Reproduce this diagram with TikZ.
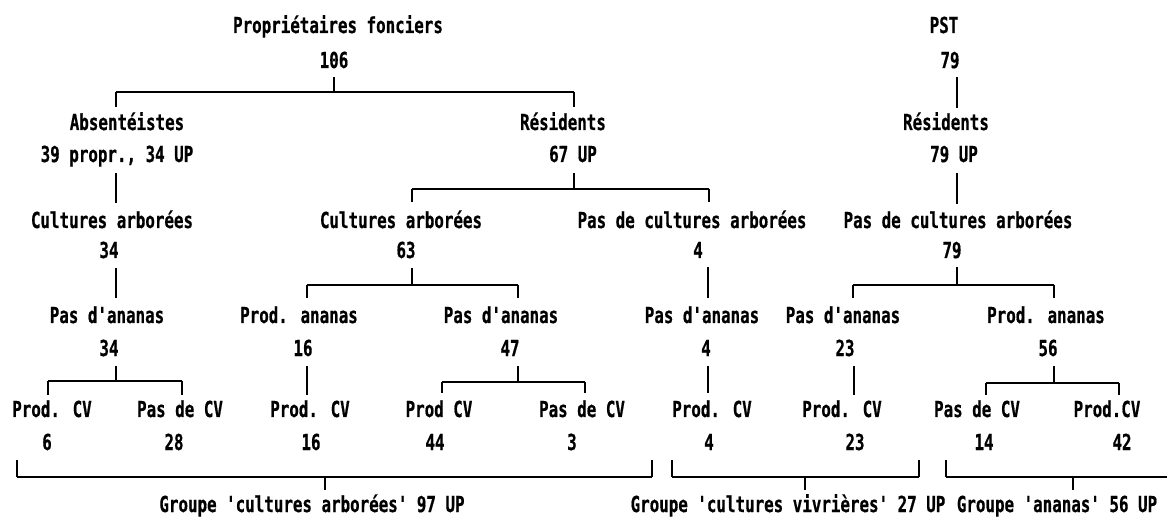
\documentclass[tikz,border=0pt]{standalone}
\usepackage{fontspec}
\newfontfamily\dmfont{DejaVu Sans Mono}[FakeStretch=0.72,FakeBold=0.6]
\usetikzlibrary{calc}
\begin{document}
\begin{tikzpicture}[x=1pt,y=-1pt,
  lab/.style={anchor=base,inner sep=0pt,font={\dmfont\bfseries\fontsize{22}{22}\selectfont}},
  vl/.style={line width=1.3pt},
  hb/.style={line width=2.4pt}]
\useasboundingbox[fill=white] (0,0) rectangle (1167,518);
% row 1-2
\node[lab] (pf) at (338,33) {Propriétaires fonciers};
\node[lab] (pst) at (944,33) {PST};
\node[lab] (n106) at (334,68) {106};
\node[lab] (n79a) at (950,68) {79};
% row 3-4
\node[lab] (abs) at (127,130) {Absentéistes};
\node[lab] (resA) at (563,130) {Résidents};
\node[lab] (resB) at (946,130) {Résidents};
\node[lab] (absn) at (117,162) {39 propr., 34 UP};
\node[lab] (up67) at (573,162) {67 UP};
\node[lab] (up79) at (954,162) {79 UP};
% row 5-6
\node[lab] (caA) at (112,228) {Cultures arborées};
\node[lab] (caB) at (401,228) {Cultures arborées};
\node[lab] (pcaA) at (692,228) {Pas de cultures arborées};
\node[lab] (pcaB) at (958,228) {Pas de cultures arborées};
\node[lab] (n34a) at (109,258) {34};
\node[lab] (n63) at (406,258) {63};
\node[lab] (n4a) at (698,258) {4};
\node[lab] (n79b) at (952,258) {79};
% row 7-8
\node[lab] (pa1) at (107,323) {Pas d'ananas};
\node[lab] (pa2) at (299,323) {Prod. ananas};
\node[lab] (pa3) at (501,323) {Pas d'ananas};
\node[lab] (pa4) at (702,323) {Pas d'ananas};
\node[lab] (pa5) at (843,323) {Pas d'ananas};
\node[lab] (pa6) at (1046,323) {Prod. ananas};
\node[lab] (n34b) at (109,356) {34};
\node[lab] (n16a) at (303,356) {16};
\node[lab] (n47) at (510,356) {47};
\node[lab] (n4b) at (706,356) {4};
\node[lab] (n23a) at (845,356) {23};
\node[lab] (n56) at (1048,356) {56};
% row 9-10
\node[lab] (cv1) at (52,417) {Prod. CV};
\node[lab] (cv2) at (180,417) {Pas de CV};
\node[lab] (cv3) at (310,417) {Prod. CV};
\node[lab] (cv4) at (439,417) {Prod CV};
\node[lab] (cv5) at (582,417) {Pas de CV};
\node[lab] (cv6) at (712,417) {Prod. CV};
\node[lab] (cv7) at (842,417) {Prod. CV};
\node[lab] (cv8) at (977,417) {Pas de CV};
\node[lab] (cv9) at (1107,417) {Prod.CV};
\node[lab] (v1) at (47,450) {6};
\node[lab] (v2) at (174,450) {28};
\node[lab] (v3) at (311,450) {16};
\node[lab] (v4) at (435,450) {44};
\node[lab] (v5) at (572,450) {3};
\node[lab] (v6) at (709,450) {4};
\node[lab] (v7) at (855,450) {23};
\node[lab] (v8) at (984,450) {14};
\node[lab] (v9) at (1122,450) {42};
% groups
\node[lab] (g1) at (312,512) {Groupe 'cultures arborées' 97 UP};
\node[lab] (g2) at (788,512) {Groupe 'cultures vivrières' 27 UP};
\node[lab] (g3) at (1057,512) {Groupe 'ananas' 56 UP};

% connectors
% 106 -> Absentéistes / Résidents
\draw[vl] (n106.base) ++(0,9) -- ++(0,15);
\draw[hb] ($(abs.base)+(-11,-38)$) -- ($(resA.base)+(11,-38)$);
\draw[vl] (abs.base) ++(-11,-38) -- ++(0,15);
\draw[vl] (resA.base) ++(11,-38) -- ++(0,15);
% PST 79 -> Résidents
\draw[vl] ($(n79a.base)+(7,9)$) -- ($(resB.base)+(11,-22)$);
% 39 propr -> Cultures arborées
\draw[vl] ($(absn.base)+(-1,11)$) -- ($(caA.base)+(4,-25)$);
% 67 UP fork
\draw[vl] (up67.base) ++(1,11) -- ++(0,16);
\draw[hb] ($(caB.base)+(11,-39)$) -- ($(pcaA.base)+(17,-39)$);
\draw[vl] (caB.base) ++(11,-39) -- ++(0,13);
\draw[vl] (pcaA.base) ++(17,-39) -- ++(0,13);
% 79 UP -> Pas de cultures arborées
\draw[vl] ($(up79.base)+(3,11)$) -- ($(pcaB.base)+(-1,-24)$);
% 34 -> Pas d'ananas
\draw[vl] ($(n34a.base)+(7,10)$) -- ($(pa1.base)+(9,-25)$);
% 63 fork
\draw[vl] (n63.base) ++(6,10) -- ++(0,17);
\draw[hb] ($(pa2.base)+(8,-38)$) -- ($(pa3.base)+(17,-38)$);
\draw[vl] (pa2.base) ++(8,-38) -- ++(0,13);
\draw[vl] (pa3.base) ++(17,-38) -- ++(0,13);
% 4 -> Pas d'ananas
\draw[vl] ($(n4a.base)+(10,9)$) -- ($(pa4.base)+(6,-25)$);
% 79 fork
\draw[vl] (n79b.base) ++(5,9) -- ++(0,18);
\draw[hb] ($(pa5.base)+(10,-38)$) -- ($(pa6.base)+(8,-38)$);
\draw[vl] (pa5.base) ++(10,-38) -- ++(0,13);
\draw[vl] (pa6.base) ++(8,-38) -- ++(0,13);
% 34 fork
\draw[vl] (n34b.base) ++(7,10) -- ++(0,15);
\draw[hb] ($(cv1.base)+(-4,-36)$) -- ($(cv2.base)+(2,-36)$);
\draw[vl] (cv1.base) ++(-4,-36) -- ++(0,14);
\draw[vl] (cv2.base) ++(2,-36) -- ++(0,14);
% 16 -> Prod. CV
\draw[vl] ($(n16a.base)+(4,10)$) -- ($(cv3.base)+(-3,-22)$);
% 47 fork
\draw[vl] (n47.base) ++(8,10) -- ++(0,16);
\draw[hb] ($(cv4.base)+(3,-35)$) -- ($(cv5.base)+(3,-35)$);
\draw[vl] (cv4.base) ++(3,-35) -- ++(0,11);
\draw[vl] (cv5.base) ++(3,-35) -- ++(0,11);
% 4 -> Prod. CV
\draw[vl] ($(n4b.base)+(2,10)$) -- ($(cv6.base)+(-4,-24)$);
% 23 -> Prod. CV
\draw[vl] ($(n23a.base)+(9,10)$) -- ($(cv7.base)+(12,-22)$);
% 56 fork
\draw[vl] (n56.base) ++(6,10) -- ++(0,17);
\draw[hb] ($(cv8.base)+(9,-34)$) -- ($(cv9.base)+(12,-34)$);
\draw[vl] (cv8.base) ++(9,-34) -- ++(0,12);
\draw[vl] (cv9.base) ++(12,-34) -- ++(0,12);

% group brackets
\draw[vl] (17,460) -- (17,477);
\draw[vl] (652,460) -- (652,477);
\draw[hb] (17,477) -- (652,477);
\draw[vl] (325,477) -- ($(g1.base)+(13,-22)$);
\draw[vl] (672,460) -- (672,477);
\draw[vl] (919,460) -- (919,477);
\draw[hb] (672,477) -- (919,477);
\draw[vl] (805,477) -- ($(g2.base)+(17,-22)$);
\draw[vl] (946,460) -- (946,477);
\draw[hb] (946,477) -- (1167,477);
\draw[vl] (1073,477) -- ($(g3.base)+(16,-22)$);
\end{tikzpicture}
\end{document}
